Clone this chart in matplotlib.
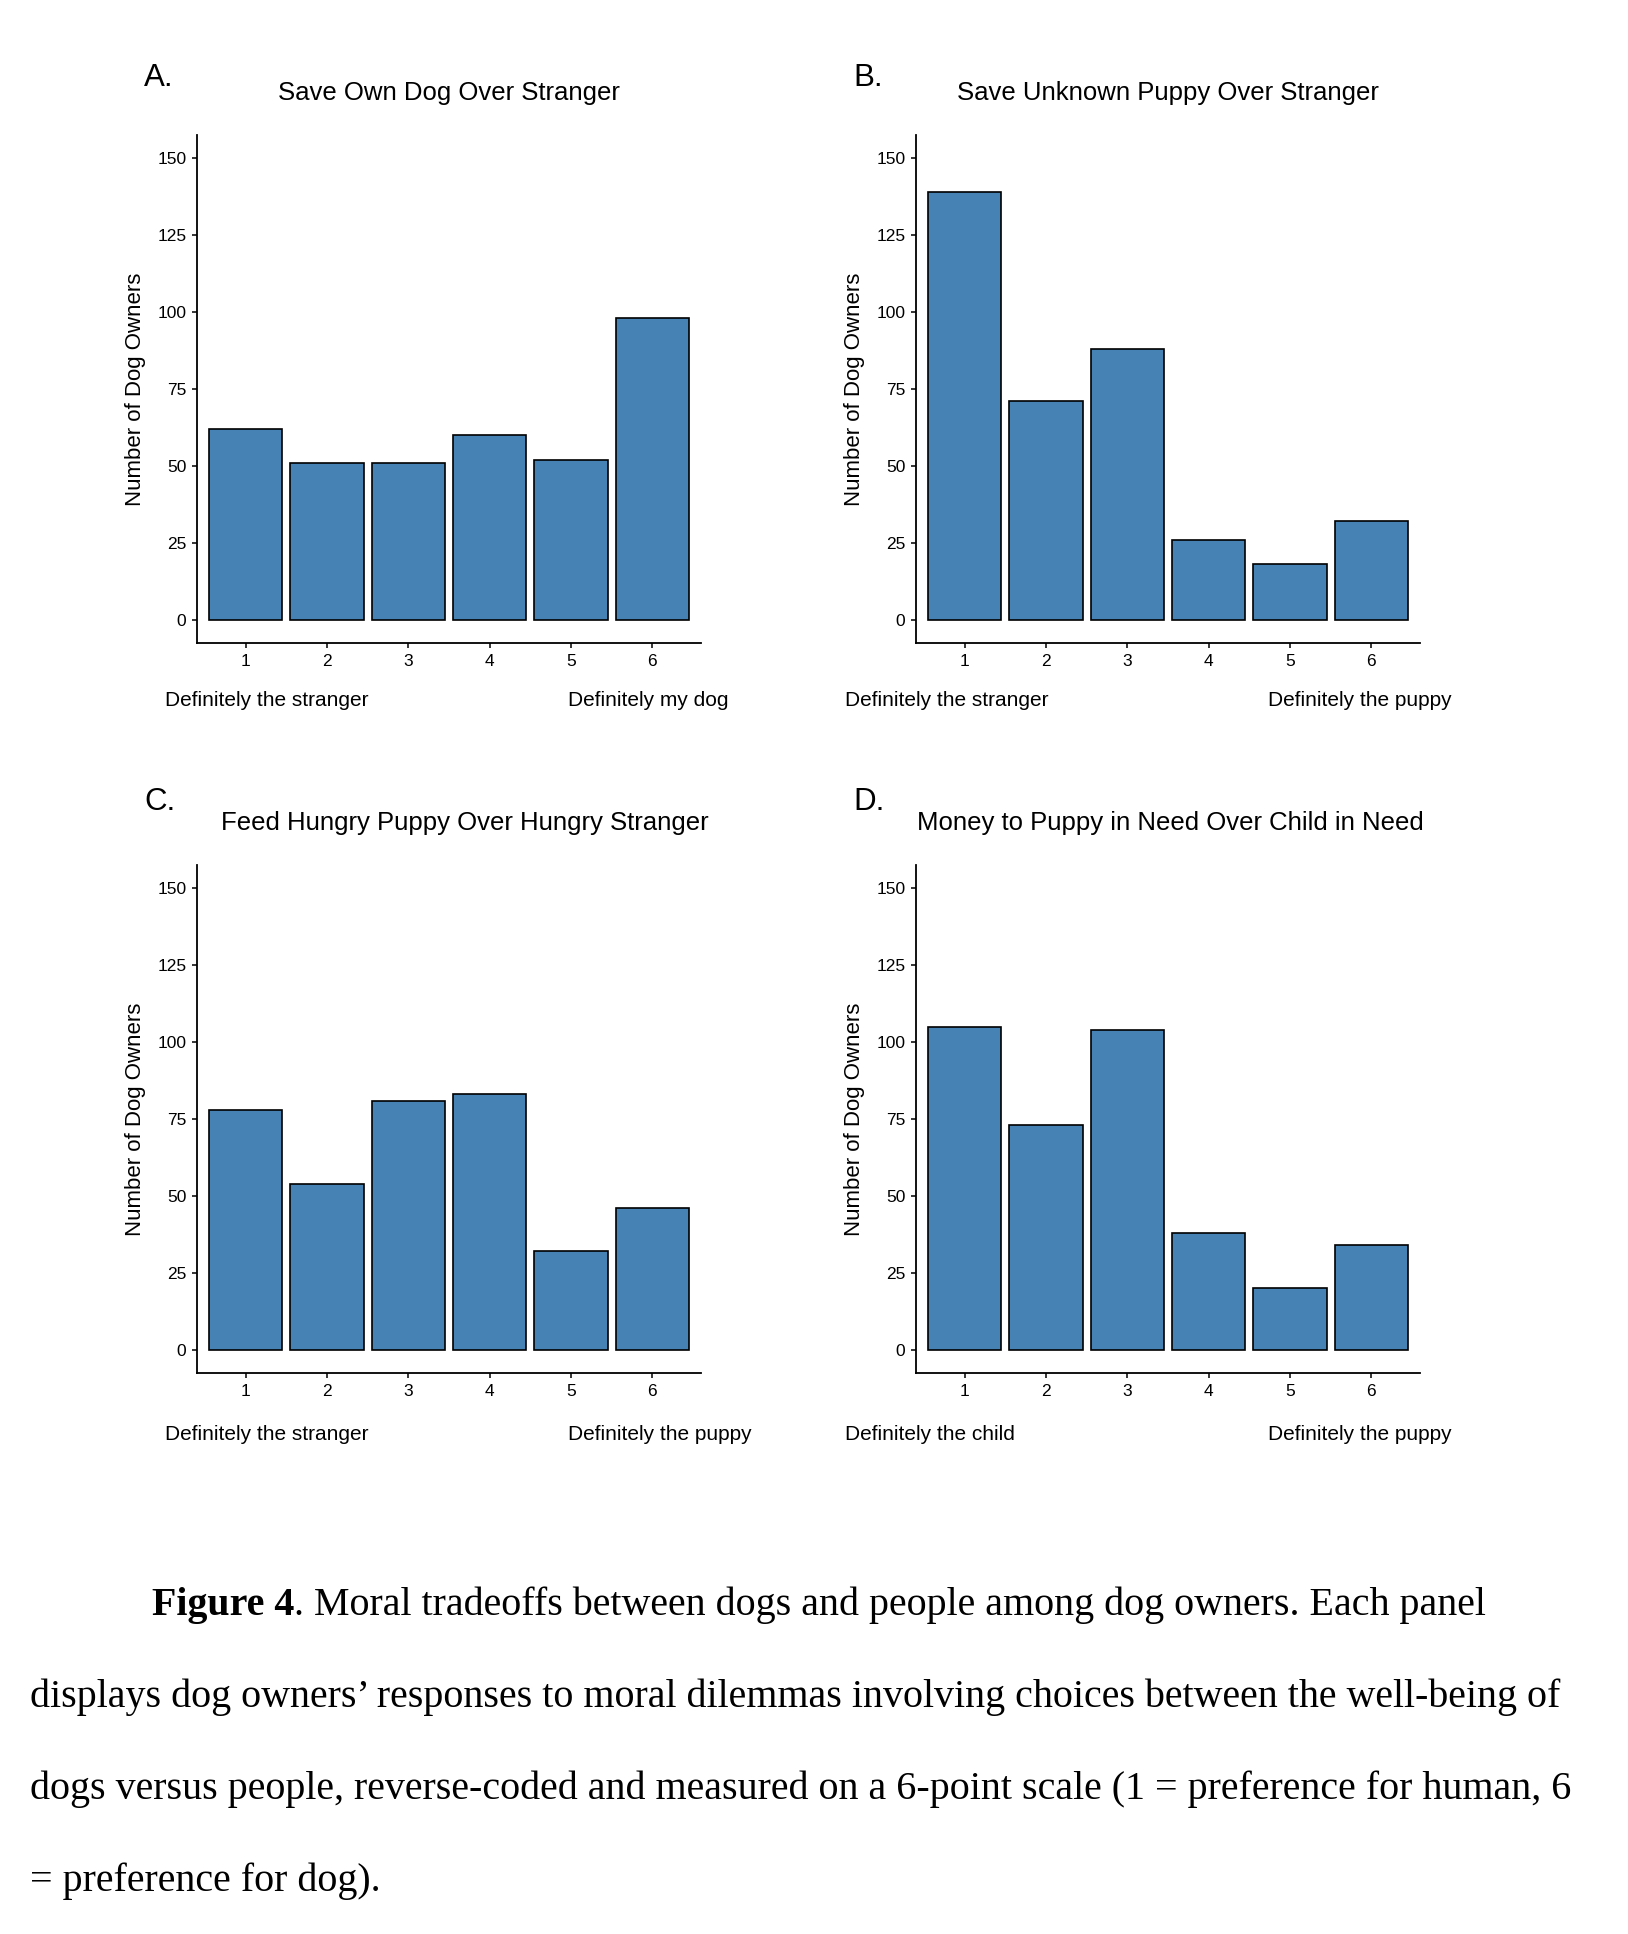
import matplotlib
matplotlib.use("Agg")
import matplotlib.pyplot as plt

W, H = 1628, 1934

# responses on the 6-point scale
scale = [1, 2, 3, 4, 5, 6]
save_own_dog = [62, 51, 51, 60, 52, 98]
save_unknown_puppy = [139, 71, 88, 26, 18, 32]
feed_hungry_puppy = [78, 54, 81, 83, 32, 46]
money_to_puppy = [105, 73, 104, 38, 20, 34]

panel_letters = ["A.", "B.", "C.", "D."]
panel_titles = ["Save Own Dog Over Stranger",
                "Save Unknown Puppy Over Stranger",
                "Feed Hungry Puppy Over Hungry Stranger",
                "Money to Puppy in Need Over Child in Need"]
left_labels = ["Definitely the stranger", "Definitely the stranger",
               "Definitely the stranger", "Definitely the child"]
right_labels = ["Definitely my dog", "Definitely the puppy",
                "Definitely the puppy", "Definitely the puppy"]
yticks = [0, 25, 50, 75, 100, 125, 150]
ylabel = "Number of Dog Owners"

caption_bold = "Figure 4"
caption_lines = [". Moral tradeoffs between dogs and people among dog owners. Each panel",
                 "displays dog owners\u2019 responses to moral dilemmas involving choices between the well-being of",
                 "dogs versus people, reverse-coded and measured on a 6-point scale (1 = preference for human, 6",
                 "= preference for dog)."]

plt.rcParams["font.family"] = ["Liberation Sans", "DejaVu Sans"]

fig = plt.figure(figsize=(W / 100, H / 100), dpi=100)
fig.patch.set_facecolor("white")


def fx(px):
    return px / W


def fy(py):
    return 1 - py / H


# pixel layout of each panel: axes left, axes top
layout = [(197, 135), (916, 135), (197, 865), (916, 865)]
ax_w, ax_h = 504, 508
letter_x = [144, 853, 144, 853]
letter_y = [86, 86, 810, 810]
title_x = [449, 1168, 465, 1170]
title_y = [100, 100, 830, 830]
left_lab_x = [165, 845, 165, 845]
right_lab_x = [568, 1268, 568, 1268]
lab_y = [706, 706, 1440, 1440]

data = [save_own_dog, save_unknown_puppy, feed_hungry_puppy, money_to_puppy]

for i, vals in enumerate(data):
    x0, y0 = layout[i]
    ax = fig.add_axes([fx(x0), fy(y0 + ax_h), ax_w / W, ax_h / H])
    ax.bar(scale, vals, width=0.9, color="#4682B4", edgecolor="black", linewidth=1.2)
    ax.set_xlim(0.4, 6.6)
    ax.set_ylim(-7.5, 157.5)
    ax.set_xticks(scale)
    ax.set_yticks(yticks)
    ax.tick_params(axis="both", labelsize=12.5, length=3.6, width=1.1, pad=4, colors="black")
    for s in ["top", "right"]:
        ax.spines[s].set_visible(False)
    for s in ["left", "bottom"]:
        ax.spines[s].set_linewidth(1.3)
    ax.set_ylabel(ylabel, fontsize=16, labelpad=8)

    fig.text(fx(title_x[i]), fy(title_y[i]), panel_titles[i], fontsize=18.5, ha="center", va="baseline")
    fig.text(fx(letter_x[i]), fy(letter_y[i]), panel_letters[i], fontsize=22.5, ha="left", va="baseline")
    fig.text(fx(left_lab_x[i]), fy(lab_y[i]), left_labels[i], fontsize=15, ha="left", va="baseline")
    fig.text(fx(right_lab_x[i]), fy(lab_y[i]), right_labels[i], fontsize=15, ha="left", va="baseline")

# caption in serif
cap_font = ["Liberation Serif", "DejaVu Serif"]
cap_size = 28.8
base_y = [1615, 1707, 1799, 1891]
start_x = [152, 30, 30, 30]

renderer = fig.canvas.get_renderer()
t = fig.text(fx(start_x[0]), fy(base_y[0]), caption_bold, fontsize=cap_size, family=cap_font,
             fontweight="bold", ha="left", va="baseline")
bb = t.get_window_extent(renderer=renderer)
fig.text(bb.x1 / W, fy(base_y[0]), caption_lines[0], fontsize=cap_size, family=cap_font,
         ha="left", va="baseline")
for k in range(1, 4):
    fig.text(fx(start_x[k]), fy(base_y[k]), caption_lines[k], fontsize=cap_size, family=cap_font,
             ha="left", va="baseline")

fig.savefig("out.png", dpi=100, facecolor="white")
